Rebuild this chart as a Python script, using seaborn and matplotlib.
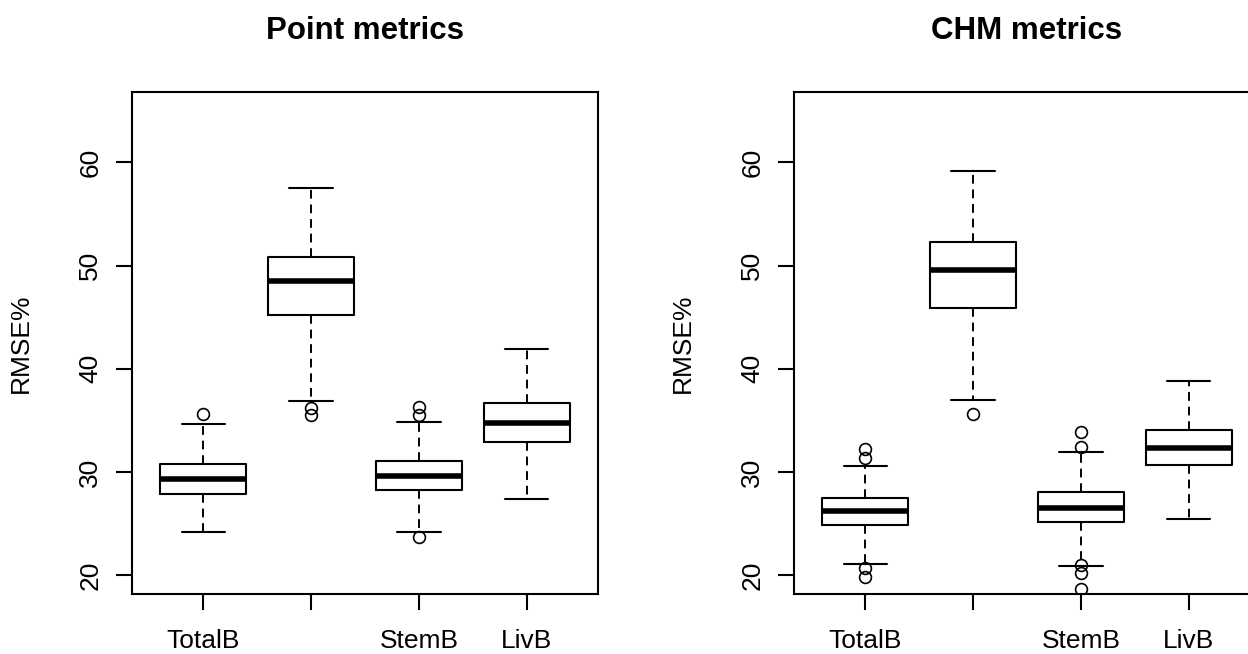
import matplotlib
matplotlib.use("Agg")
import matplotlib.pyplot as plt
import seaborn as sns

# ---- data ----
tick_labels = ["TotalB", "", "StemB", "LivB"]
titles = ["Point metrics", "CHM metrics"]
ylabel = "RMSE%"
yticks = [20, 30, 40, 50, 60]

# Point metrics
point_q1 = [27.9, 45.2, 28.3, 32.9]
point_med = [29.35, 48.55, 29.6, 34.8]
point_q3 = [30.8, 50.85, 31.1, 36.7]
point_whislo = [24.2, 36.9, 24.2, 27.35]
point_whishi = [34.65, 57.55, 34.85, 41.95]
point_fliers = [[35.65], [36.2, 35.5], [36.3, 35.5, 23.7], []]

# CHM metrics
chm_q1 = [24.9, 45.9, 25.15, 30.7]
chm_med = [26.25, 49.6, 26.5, 32.3]
chm_q3 = [27.5, 52.25, 28.05, 34.1]
chm_whislo = [21.1, 36.95, 20.9, 25.5]
chm_whishi = [30.6, 59.15, 31.95, 38.85]
chm_fliers = [[32.2, 31.4, 20.7, 19.8], [35.65], [33.9, 32.4, 21.0, 20.2, 18.7], []]

sns.set_theme(style="white")
plt.rcParams["font.family"] = ["Liberation Sans", "DejaVu Sans"]


def make_stats(q1, med, q3, lo, hi, fl):
    return [dict(q1=a, med=b, q3=c, whislo=d, whishi=e, fliers=f)
            for a, b, c, d, e, f in zip(q1, med, q3, lo, hi, fl)]


panels = [
    make_stats(point_q1, point_med, point_q3, point_whislo, point_whishi, point_fliers),
    make_stats(chm_q1, chm_med, chm_q3, chm_whislo, chm_whishi, chm_fliers),
]

fig = plt.figure(figsize=(12.48, 6.54), dpi=100)
fig.patch.set_facecolor("white")

W, H = 1248, 654
lefts = [132, 794]
ax_w = 466
ax_top, ax_bot = 92, 594

for i, stats in enumerate(panels):
    ax = fig.add_axes([lefts[i] / W, (H - ax_bot) / H, ax_w / W, (ax_bot - ax_top) / H])
    ax.set_facecolor("white")
    ax.bxp(
        stats,
        widths=0.8,
        showfliers=True,
        patch_artist=False,
        boxprops=dict(color="black", linewidth=1.5),
        medianprops=dict(color="black", linewidth=4.0, solid_capstyle="butt"),
        whiskerprops=dict(color="black", linewidth=1.4, linestyle=(0, (4.5, 3))),
        capprops=dict(color="black", linewidth=1.5),
        flierprops=dict(marker="o", markerfacecolor="none", markeredgecolor="black",
                        markersize=8.5, markeredgewidth=1.2, linestyle="none"),
    )
    ax.set_xlim(0.34, 4.66)
    ax.set_ylim(18.2, 66.8)
    ax.set_yticks(yticks)
    ax.set_yticklabels([str(v) for v in yticks])
    ax.set_xticks([1, 2, 3, 4])
    ax.set_xticklabels(tick_labels)
    for s in ax.spines.values():
        s.set_visible(True)
        s.set_color("black")
        s.set_linewidth(1.5)
    ax.tick_params(axis="both", which="major", direction="out", length=11.5, width=1.5,
                   color="black", labelsize=19, labelcolor="black",
                   left=True, bottom=True)
    ax.tick_params(axis="x", pad=14)
    ax.tick_params(axis="y", pad=10)
    for lab in ax.get_yticklabels():
        lab.set_rotation(90)
        lab.set_va("center")
    ax.set_ylabel(ylabel, fontsize=19, color="black")
    ax.yaxis.set_label_coords(-0.213, 0.5)
    ax.set_title(titles[i], fontsize=22.5, fontweight="bold", color="black", pad=38)
    ax.grid(False)

fig.savefig("out.png", dpi=100, facecolor="white")
